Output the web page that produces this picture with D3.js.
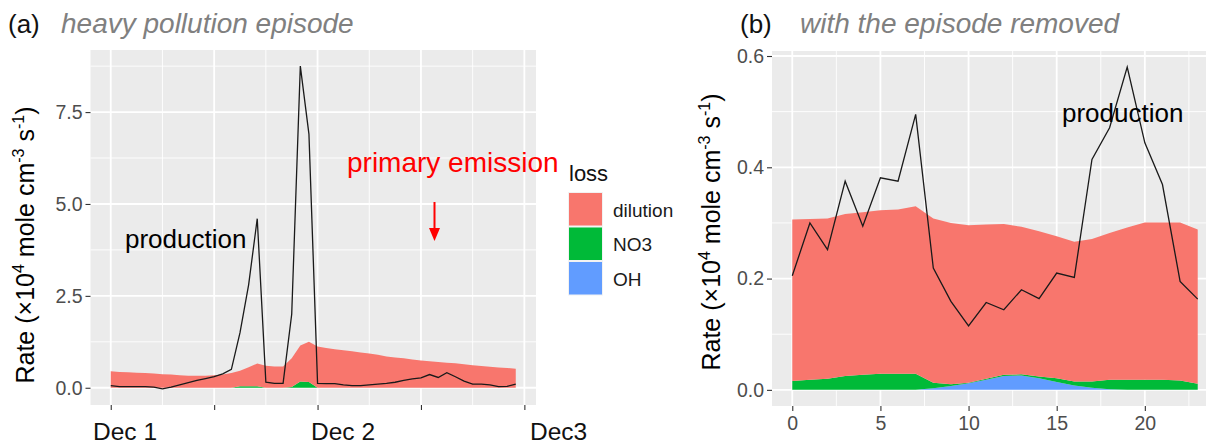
<!DOCTYPE html>
<html><head><meta charset="utf-8">
<script src="https://cdn.jsdelivr.net/npm/d3@7"></script>
<style>
body{margin:0;background:#fff;}
svg{display:block;font-family:Arial,"Liberation Sans",sans-serif;}
</style></head>
<body><svg id="c" width="1206" height="445"></svg>
<script>
// ---------- DATA ----------
const hoursA = [0,1,2,3,4,5,6,7,8,9,10,11,12,13,14,15,16,17,18,19,20,21,22,23,24,25,26,27,28,29,30,31,32,33,34,35,36,37,38,39,40,41,42,43,44,45,46,47];
const prodA = [0.06,0.03,0.03,0.03,0.03,0.02,-0.03,0.02,0.08,0.14,0.2,0.25,0.3,0.38,0.5,1.5,2.8,4.6,0.15,0.12,0.12,2.0,8.75,6.9,0.12,0.11,0.11,0.08,0.06,0.06,0.08,0.1,0.12,0.15,0.2,0.24,0.27,0.36,0.28,0.41,0.3,0.18,0.1,0.1,0.08,0.03,0.04,0.1];
const dilutionA = [0.45,0.43,0.42,0.41,0.40,0.39,0.37,0.36,0.34,0.33,0.33,0.33,0.34,0.36,0.40,0.42,0.52,0.62,0.60,0.58,0.58,0.78,0.98,1.09,1.12,1.08,1.05,1.02,0.99,0.96,0.93,0.90,0.85,0.82,0.80,0.77,0.74,0.72,0.70,0.68,0.67,0.64,0.61,0.59,0.57,0.55,0.54,0.52];
const no3A = [0,0,0,0,0,0,0,0,0,0,0,0,0,0,0,0.04,0.04,0.04,0,0,0,0.02,0.17,0.16,0,0,0,0,0,0,0,0,0,0,0,0,0,0,0,0,0,0,0,0,0,0,0,0];
const ohA = [0,0,0,0,0,0,0,0,0,0,0,0,0,0,0,0,0,0,0,0,0,0,0,0,0,0,0,0,0,0,0,0,0,0,0,0,0,0,0,0,0,0,0,0,0,0,0,0];
const xTicksA = [0,12,24,36,48];
const xLabelsA = ["Dec 1","Dec 2","Dec3"];
const yTicksA = [0,2.5,5,7.5];

const hoursB = [0,1,2,3,4,5,6,7,8,9,10,11,12,13,14,15,16,17,18,19,20,21,22,23];
const prodB = [0.205,0.30,0.252,0.375,0.294,0.381,0.375,0.495,0.219,0.159,0.115,0.157,0.144,0.18,0.164,0.21,0.202,0.414,0.471,0.58,0.444,0.369,0.195,0.163];
const dilutionB = [0.290,0.289,0.288,0.291,0.292,0.294,0.295,0.301,0.295,0.290,0.283,0.277,0.271,0.265,0.261,0.255,0.251,0.256,0.264,0.274,0.283,0.283,0.284,0.277];
const no3B = [0.016,0.018,0.020,0.025,0.027,0.029,0.029,0.029,0.010,0.003,0.001,0.002,0.002,0.002,0.003,0.007,0.007,0.011,0.017,0.018,0.018,0.018,0.017,0.011];
const ohB = [0,0,0,0,0,0,0,0,0.003,0.007,0.012,0.018,0.025,0.026,0.021,0.014,0.008,0.004,0.001,0,0,0,0,0];
const xTicksB = [0,5,10,15,20];
const yTicksB = [0,0.2,0.4,0.6];

const lossKeys = ["dilution","NO3","OH"];
const lossColors = ["#F8766D","#00BA38","#619CFF"];

// ---------- DRAW ----------
const svg = d3.select("#c");
const color = d3.scaleOrdinal().domain(lossKeys).range(lossColors);

function expand(ext){const d=(ext[1]-ext[0])*0.05;return [ext[0]-d,ext[1]+d];}

function panel(cfg){
  const {hours,prod,dil,no3,oh,L,R,T,B,xTicks,xMinor,yTicks,yMinor,yFmt,showXLabels}=cfg;
  const x = d3.scaleLinear().domain(expand(d3.extent(hours))).range([L,R]);
  const allY = prod.concat(hours.map((h,i)=>dil[i]+no3[i]+oh[i])).concat([0]);
  const y = d3.scaleLinear().domain(expand(d3.extent(allY))).range([B,T]);
  const g = svg.append("g");
  g.append("rect").attr("x",L).attr("y",T).attr("width",R-L).attr("height",B-T).attr("fill","#EBEBEB");
  // grid
  g.selectAll(".ym").data(yMinor).join("line").attr("x1",L).attr("x2",R).attr("y1",d=>y(d)).attr("y2",d=>y(d)).attr("stroke","#fff").attr("stroke-width",0.9);
  g.selectAll(".xm").data(xMinor).join("line").attr("y1",T).attr("y2",B).attr("x1",d=>x(d)).attr("x2",d=>x(d)).attr("stroke","#fff").attr("stroke-width",0.9);
  g.selectAll(".yM").data(yTicks).join("line").attr("x1",L).attr("x2",R).attr("y1",d=>y(d)).attr("y2",d=>y(d)).attr("stroke","#fff").attr("stroke-width",1.8);
  g.selectAll(".xM").data(xTicks).join("line").attr("y1",T).attr("y2",B).attr("x1",d=>x(d)).attr("x2",d=>x(d)).attr("stroke","#fff").attr("stroke-width",1.8);
  // stacked areas
  const rows = hours.map((h,i)=>({h,dilution:dil[i],NO3:no3[i],OH:oh[i]}));
  const stack = d3.stack().keys(["OH","NO3","dilution"]);
  const series = stack(rows);
  const area = d3.area().x(d=>x(d.data.h)).y0(d=>y(d[0])).y1(d=>y(d[1]));
  g.selectAll(".ar").data(series).join("path").attr("d",area).attr("fill",d=>color(d.key));
  // production line
  const line = d3.line().x((d,i)=>x(hours[i])).y(d=>y(d));
  g.append("path").datum(prod).attr("d",line).attr("fill","none").attr("stroke","#1a1a1a").attr("stroke-width",1.3);
  // axes
  const ya = d3.axisLeft(y).tickValues(yTicks).tickFormat(yFmt).tickSize(5).tickPadding(3);
  const yg = g.append("g").attr("transform",`translate(${L},0)`).call(ya);
  const xa = d3.axisBottom(x).tickValues(xTicks).tickSize(5).tickPadding(5).tickFormat(showXLabels?d3.format("d"):"");
  const xg = g.append("g").attr("transform",`translate(0,${B})`).call(xa);
  [yg,xg].forEach(a=>{a.select(".domain").remove();a.selectAll(".tick line").attr("stroke","#333").attr("stroke-width",1.1);
    a.selectAll(".tick text").attr("fill","#4D4D4D").style("font-size","19.5px").style("font-family","Arial, 'Liberation Sans', sans-serif");});
  return {x,y,g};
}

panel({hours:hoursA,prod:prodA,dil:dilutionA,no3:no3A,oh:ohA,L:90.5,R:536,T:50,B:405,
  xTicks:xTicksA,xMinor:[6,18,30,42],yTicks:yTicksA,yMinor:[1.25,3.75,6.25,8.75],yFmt:d3.format(".1f"),showXLabels:false});
panel({hours:hoursB,prod:prodB,dil:dilutionB,no3:no3B,oh:ohB,L:772,R:1218,T:51,B:406,
  xTicks:xTicksB,xMinor:[2.5,7.5,12.5,17.5,22.5],yTicks:yTicksB,yMinor:[0.1,0.3,0.5],yFmt:d3.format(".1f"),showXLabels:true});

// date labels (panel a)
const dateX = [93,311,530];
svg.selectAll(".dl").data(xLabelsA).join("text").attr("x",(d,i)=>dateX[i]).attr("y",440)
  .attr("font-size","24.5px").attr("fill","#111").text(d=>d);

// titles
svg.append("text").attr("x",8).attr("y",33).attr("font-size","26px").attr("fill","#111").text("(a)");
svg.append("text").attr("x",61).attr("y",33).attr("font-size","28px").attr("font-style","italic").attr("fill","#808080").text("heavy pollution episode");
svg.append("text").attr("x",740).attr("y",33).attr("font-size","26px").attr("fill","#111").text("(b)");
svg.append("text").attr("x",800).attr("y",33).attr("font-size","28px").attr("font-style","italic").attr("fill","#808080").text("with the episode removed");

// y axis titles
function yTitle(tx,ty){
  const t = svg.append("text").attr("transform",`translate(${tx},${ty}) rotate(-90)`).attr("text-anchor","middle").attr("font-size","25px").attr("fill","#000");
  t.append("tspan").text("Rate (\u00d710");
  t.append("tspan").attr("dy",-10).attr("font-size","16px").text("4");
  t.append("tspan").attr("dy",10).text(" mole cm");
  t.append("tspan").attr("dy",-10).attr("font-size","16px").text("-3");
  t.append("tspan").attr("dy",10).text(" s");
  t.append("tspan").attr("dy",-10).attr("font-size","16px").text("-1");
  t.append("tspan").attr("dy",10).text(")");
}
yTitle(34,245);
yTitle(720,232);

// annotations
svg.append("text").attr("x",125).attr("y",248).attr("font-size","26px").attr("fill","#000").text("production");
svg.append("text").attr("x",1062).attr("y",122).attr("font-size","26px").attr("fill","#000").text("production");
svg.append("text").attr("x",347).attr("y",172).attr("font-size","28px").attr("fill","#FF0000").text("primary emission");
svg.append("line").attr("x1",434.5).attr("x2",434.5).attr("y1",202).attr("y2",230).attr("stroke","#FF0000").attr("stroke-width",2);
svg.append("path").attr("d","M429,228 L440,228 L434.5,241 Z").attr("fill","#FF0000");

// legend
const lg = svg.append("g");
lg.append("text").attr("x",569).attr("y",181).attr("font-size","22px").attr("fill","#111").text("loss");
lossKeys.forEach((k,i)=>{
  lg.append("rect").attr("x",568).attr("y",192+i*34.5).attr("width",35).attr("height",34.5).attr("fill","#F2F2F2");
  lg.append("rect").attr("x",569).attr("y",193+i*34.5).attr("width",33).attr("height",32.5).attr("fill",color(k));
  lg.append("text").attr("x",613).attr("y",210+i*34.5).attr("dy","0.35em").attr("font-size","19px").attr("fill","#1a1a1a").text(k);
});
</script></body></html>
